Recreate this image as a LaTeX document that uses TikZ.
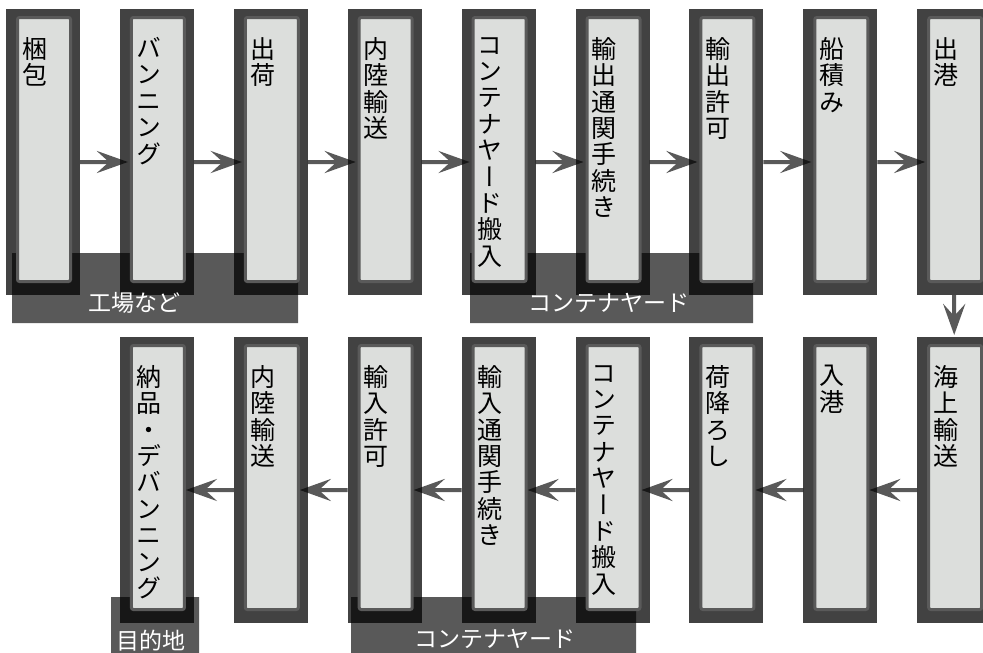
\documentclass[tikz,border=0pt]{standalone}
\usepackage{fontspec}
\setmainfont{Noto Sans CJK JP}
\newfontfamily\tate[RawFeature=+vert]{Noto Sans CJK JP}
\usetikzlibrary{arrows.meta}
\definecolor{boxdark}{HTML}{424242}
\definecolor{boxring}{HTML}{5A5A5A}
\definecolor{boxlight}{HTML}{DCDEDC}

\def\steplist{1/6/9/{梱\\包}, 2/119.9/9/{バ\\ン\\ニ\\ン\\グ}, 3/233.8/9/{出\\荷},
  4/347.7/9/{内\\陸\\輸\\送}, 5/461.6/9/{コ\\ン\\テ\\ナ\\ヤ\\ー\\ド\\搬\\入},
  6/575.5/9/{輸\\出\\通\\関\\手\\続\\き}, 7/689.4/9/{輸\\出\\許\\可},
  8/803.3/9/{船\\積\\み}, 9/917.2/9/{出\\港},
  10/917.2/337/{海\\上\\輸\\送}, 11/803.3/337/{入\\港}, 12/689.4/337/{荷\\降\\ろ\\し},
  13/575.5/337/{コ\\ン\\テ\\ナ\\ヤ\\ー\\ド\\搬\\入},
  14/461.6/337/{輸\\入\\通\\関\\手\\続\\き}, 15/347.7/337/{輸\\入\\許\\可},
  16/233.8/337/{内\\陸\\輸\\送}, 17/119.9/337/{納\\品\\・\\デ\\バ\\ン\\ニ\\ン\\グ}}

\begin{document}
\begin{tikzpicture}[x=1pt, y=-1pt,
    stepbox/.style={fill=boxdark, minimum width=74pt, minimum height=286pt, inner sep=0pt, outer sep=0pt},
    ringbox/.style={fill=boxlight, draw=boxring, line width=3pt, rounded corners=2pt,
      minimum width=53pt, minimum height=264pt, inner sep=0pt, outer sep=0pt},
    steptext/.style={anchor=north west, inner sep=0pt, align=left, font=\tate\fontsize{25}{26.4}\selectfont},
    areatext/.style={text=white, inner sep=0pt, font=\fontsize{23}{23}\selectfont},
    flow/.style={line width=4pt, -{Stealth[length=31pt, width=22pt, inset=12pt]}}]
  \useasboundingbox (0,0) rectangle (983,653);

  % outer boxes
  \foreach \n/\x/\y/\txt in \steplist
    \node[stepbox] (s\n) at (\x+37, \y+143) {};

  % areas and arrows
  \begin{scope}[transparency group, opacity=0.65]
    \fill (12,253) rectangle (298,323);
    \fill (470,253) rectangle (753,323);
    \fill (111,597) rectangle (199,653);
    \fill (351,597) rectangle (636,653);
    \foreach \a/\b in {1/2, 2/3, 3/4, 4/5, 5/6, 6/7, 7/8, 8/9}
      \draw[flow] ([yshift=-10pt]s\a.east) -- ([xshift=8pt, yshift=-10pt]s\b.west);
    \foreach \a/\b in {10/11, 11/12, 12/13, 13/14, 14/15, 15/16, 16/17}
      \draw[flow] ([yshift=-10pt]s\a.west) -- ([xshift=-8pt, yshift=-10pt]s\b.east);
    \draw[flow] (s9.south) -- ([yshift=2pt]s10.north);
  \end{scope}

  % inner panels and texts
  \foreach \n/\x/\y/\txt in \steplist {
    \node[ringbox] (r\n) at (\x+38, \y+140.5) {};
    \node[steptext] (l\n) at ([shift={(16,28)}]s\n.north west) {\txt};
  }

  \node[areatext] (factory) at (134,303) {工場など};
  \node[areatext] (yard1) at (609,303) {コンテナヤード};
  \node[areatext] (dest) at (151,641) {目的地};
  \node[areatext] (yard2) at (495,639) {コンテナヤード};
\end{tikzpicture}
\end{document}
